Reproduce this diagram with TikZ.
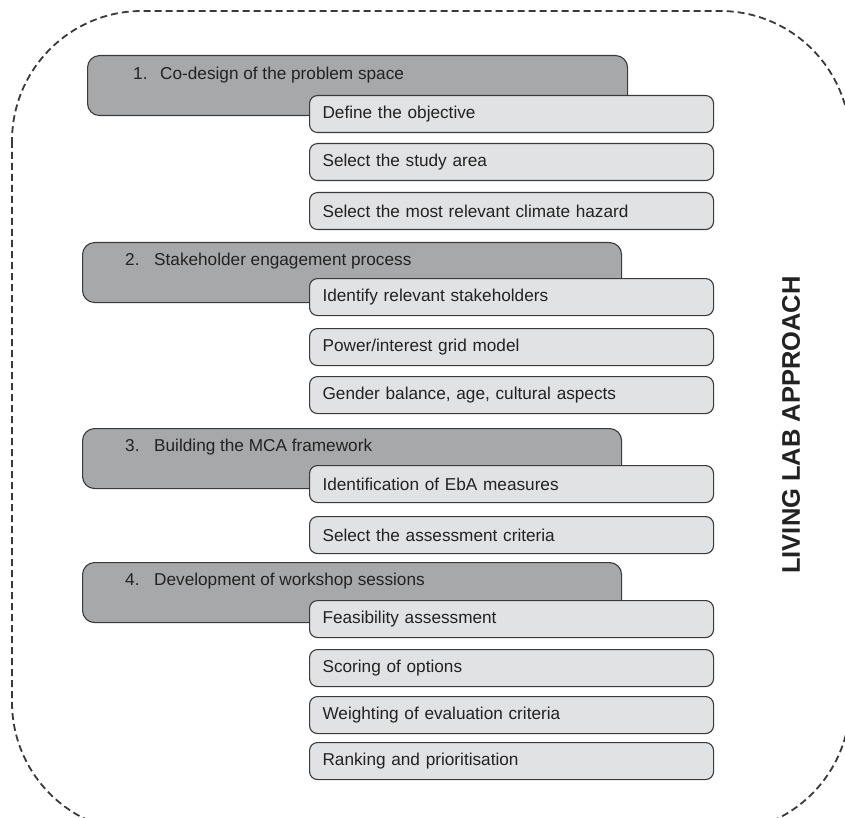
\documentclass[tikz,border=0pt]{standalone}
\usepackage{fontspec}
\setmainfont{Liberation Sans}
\definecolor{darkfill}{HTML}{A7A8AA}
\definecolor{lightfill}{HTML}{E1E2E4}
\definecolor{edge}{HTML}{3A3A3A}
\definecolor{ink}{HTML}{222222}
\begin{document}
\begin{tikzpicture}[x=1pt,y=-1pt,
  phasebox/.style={draw=edge, line width=1.1pt, fill=darkfill, rounded corners=12pt,
    anchor=north west, minimum height=60pt, inner sep=0pt},
  phasetext/.style={anchor=west, text=ink, font=\fontsize{17.2}{20}\selectfont, inner sep=0pt},
  stepbox/.style={draw=edge, line width=1.1pt, fill=lightfill, rounded corners=8pt,
    anchor=north west, minimum height=37pt, text width=378pt, inner xsep=13pt, inner ysep=0pt,
    align=left, text=ink, font=\fontsize{17.2}{20}\selectfont},
  outline/.style={draw=edge, line width=1.8pt, dash pattern=on 7pt off 4pt, rounded corners=130pt}
]
\useasboundingbox (0,0) rectangle (845,818);
\clip (0,0) rectangle (845,818);
\fill[white] (0,0) rectangle (845,818);
\draw[outline] (12,11) rectangle (850,832);

% group 1
\node[phasebox, minimum width=540pt] (d1) at (87,55) {};
\node[phasetext] (t1) at (133,75) {\makebox[27pt][l]{1.}Co-design of the problem space};
\node[stepbox] (s11) at (309,95) {Define the objective};
\node[stepbox] (s12) at (309,143) {Select the study area};
\node[stepbox] (s13) at (309,192) {Select the most relevant climate hazard};

% group 2
\node[phasebox, minimum width=539pt] (d2) at (82,242) {};
\node[phasetext] (t2) at (125,261) {\makebox[29pt][l]{2.}Stakeholder engagement process};
\node[stepbox] (s21) at (309,278) {Identify relevant stakeholders};
\node[stepbox] (s22) at (309,328) {Power/interest grid model};
\node[stepbox] (s23) at (309,376) {Gender balance, age, cultural aspects};

% group 3
\node[phasebox, minimum width=539pt] (d3) at (82,428) {};
\node[phasetext] (t3) at (125,447) {\makebox[29pt][l]{3.}Building the MCA framework};
\node[stepbox] (s31) at (309,465) {Identification of EbA measures};
\node[stepbox] (s32) at (309,516) {Select the assessment criteria};

% group 4
\node[phasebox, minimum width=539pt] (d4) at (82,562) {};
\node[phasetext] (t4) at (125,581) {\makebox[29pt][l]{4.}Development of workshop sessions};
\node[stepbox] (s41) at (309,600) {Feasibility assessment};
\node[stepbox] (s42) at (309,649) {Scoring of options};
\node[stepbox] (s43) at (309,696) {Weighting of evaluation criteria};
\node[stepbox] (s44) at (309,742) {Ranking and prioritisation};

\node[rotate=90, text=ink, font=\fontsize{25.5}{28}\bfseries\selectfont, inner sep=0pt] (side) at (791,425) {LIVING LAB APPROACH};
\end{tikzpicture}
\end{document}
